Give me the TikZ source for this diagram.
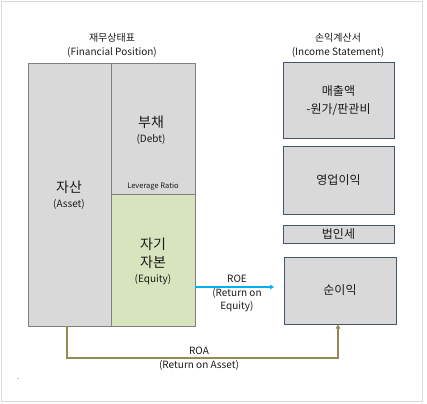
\documentclass[tikz,border=0pt]{standalone}
\usepackage{fontspec}
\setmainfont{Noto Sans CJK KR}
\usetikzlibrary{arrows.meta}
\definecolor{boxgray}{HTML}{D9D9D9}
\definecolor{leftedge}{HTML}{808080}
\definecolor{rightedge}{HTML}{44546A}
\definecolor{eqgreen}{HTML}{D7E4BD}
\definecolor{roeblue}{HTML}{00B0F0}
\definecolor{roaolive}{HTML}{948A54}
\definecolor{framegray}{HTML}{D9D9D9}
\definecolor{txt}{HTML}{1A1A1A}
\tikzset{
  lbox/.style={draw=leftedge, fill=boxgray, line width=0.9pt, inner sep=0pt},
  rbox/.style={draw=rightedge, fill=boxgray, line width=1pt, inner sep=0pt, align=center, text=txt, font=\fontsize{12}{18}\selectfont},
  lbl/.style={align=center, text=txt, inner sep=0pt},
  small/.style={font=\fontsize{10}{13.5}\selectfont},
  big/.style={font=\fontsize{14}{18}\selectfont},
}
\begin{document}
\begin{tikzpicture}[x=1pt,y=-1pt]
\useasboundingbox (0,0) rectangle (427,403);
\draw[framegray, line width=1pt] (1.5,1.5) rectangle (422,401);

% titles
\node[lbl, small] (fptitle) at (112,45.5) {재무상태표\\(Financial Position)};
\node[lbl, small] (istitle) at (338,45.5) {손익계산서\\(Income Statement)};

% balance sheet
\node[lbox, minimum width=83, minimum height=263] (asset) at (69.5,194.5) {};
\node[lbox, minimum width=84, minimum height=131] (debt) at (153,128.5) {};
\node[lbox, fill=eqgreen, minimum width=84, minimum height=132] (equity) at (153,260) {};

\node[lbl, big] (assettxt) at (69,195) {자산\\[-3pt]{\fontsize{10}{12}\selectfont (Asset)}};
\node[lbl, big] (debttxt) at (151,130) {부채\\[-3pt]{\fontsize{10}{12}\selectfont (Debt)}};
\node[lbl, font=\fontsize{7.5}{9}\selectfont] (lev) at (153,187) {Leverage Ratio};
\node[lbl, big] (eqtxt) at (153,261) {자기\\자본\\[-3pt]{\fontsize{10}{12}\selectfont (Equity)}};

% income statement
\node[rbox, minimum width=111, minimum height=76] (sales) at (338.5,101) {매출액\\-원가/판관비};
\node[rbox, minimum width=111, minimum height=67] (opinc) at (338.5,180.5) {영업이익};
\node[rbox, minimum width=111, minimum height=18] (tax) at (338.5,234) {법인세};
\node[rbox, minimum width=112, minimum height=67] (net) at (340,290.5) {순이익};

% ROE
\coordinate (roeend) at (274,287);
\draw[roeblue, line width=1.2pt, -{Triangle[length=4pt,width=4.5pt]}] (equity.east |- roeend) -- (roeend);
\node[lbl, small] (roetxt) at (237,279) {ROE};
\node[lbl, small] (roesub) at (237,300) {(Return on\\Equity)};

% ROA
\coordinate (roa1) at (67,358);
\coordinate (roa2) at (338,358);
\draw[roaolive, line width=1.2pt, -{Triangle[length=4pt,width=4.5pt]}] (asset.south -| roa1) -- (roa1) -- (roa2) -- (net.south -| roa2);
\node[lbl, small] (roatxt) at (199,358.5) {ROA\\(Return on Asset)};

\node[lbl, font=\fontsize{6}{7}\selectfont, text=rightedge] (mark) at (18,380) {-};
\end{tikzpicture}
\end{document}
